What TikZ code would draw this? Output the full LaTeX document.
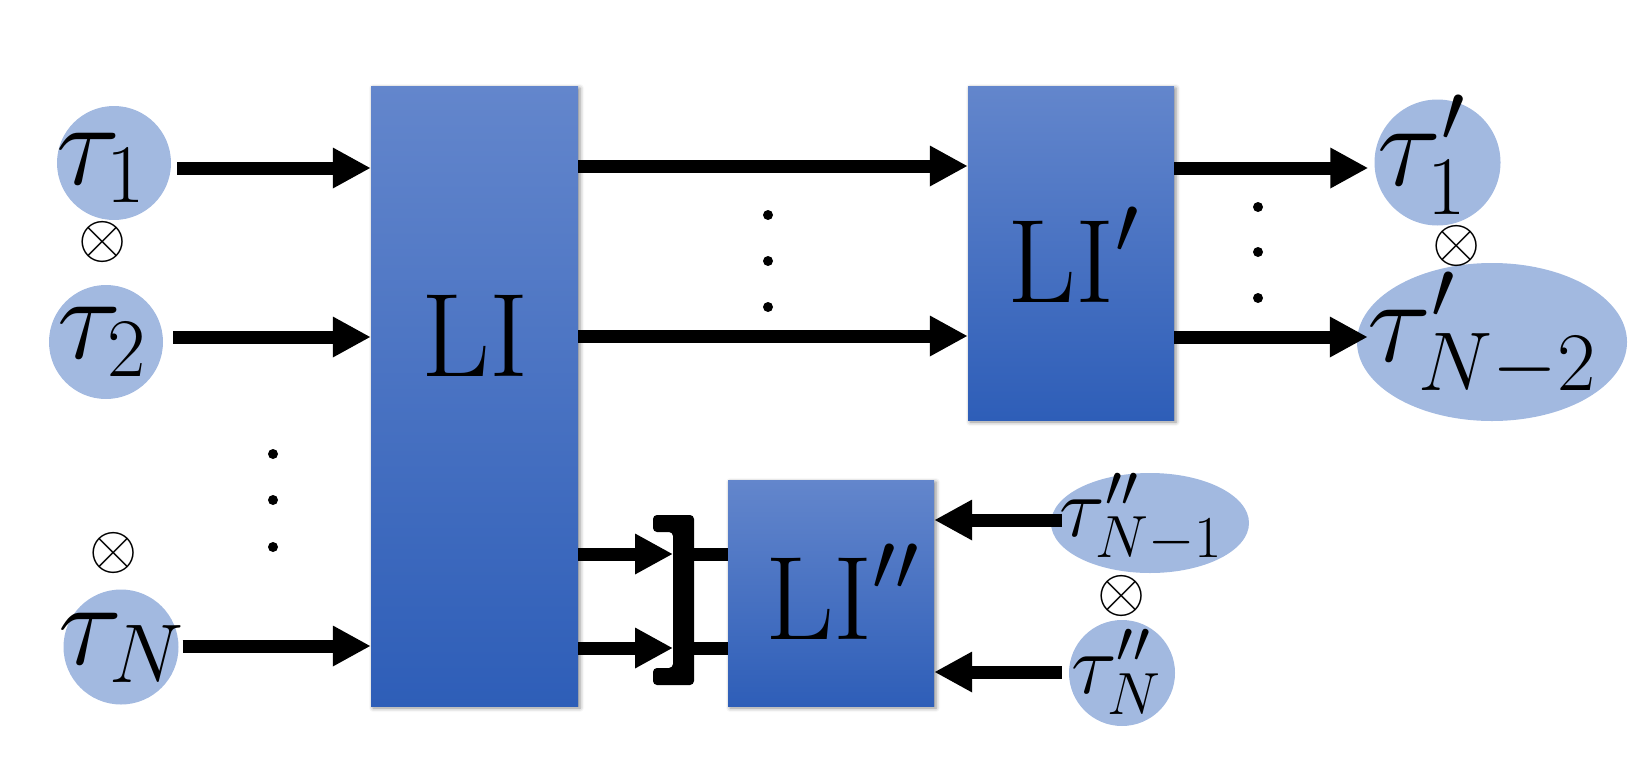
\RequirePackage{fix-cm}
\documentclass[tikz,border=0pt]{standalone}
\usetikzlibrary{arrows.meta,shapes.geometric,shadows.blur}
\definecolor{cfill}{RGB}{162,185,224}
\definecolor{btop}{RGB}{99,134,204}
\definecolor{bbot}{RGB}{46,94,184}
\begin{document}
\begin{tikzpicture}[x=1pt,y=-1pt,
  blk/.style={rectangle, inner sep=0pt, top color=btop, bottom color=bbot, draw=none,
    blur shadow={shadow xshift=2pt, shadow yshift=-2pt, shadow blur radius=4pt, shadow opacity=45}},
  circ/.style={circle, fill=cfill, draw=none, inner sep=0pt},
  ell/.style={ellipse, fill=cfill, draw=none, inner sep=0pt},
  bigtext/.style={font=\fontsize{119}{130}\selectfont, inner sep=0pt},
  midtext/.style={font=\fontsize{85}{95}\selectfont, inner sep=0pt},
  optext/.style={font=\fontsize{62}{70}\selectfont, inner sep=0pt},
  arr/.style={line width=13pt, -{Triangle[length=38pt,width=38pt]}},
  thk/.style={line width=13pt},
  vdot/.style={circle, fill=black, inner sep=0pt, minimum size=10pt}
]
\useasboundingbox (0,0) rectangle (1648,779);

% boxes
\node[blk, minimum width=207pt, minimum height=620pt] (LI) at (474.5,396) {};
\node[blk, minimum width=206pt, minimum height=334pt] (LIp) at (1071,253) {};
\node[blk, minimum width=206pt, minimum height=226pt] (LIpp) at (831,593) {};
\node[bigtext] (LIt) at (475,336) {$\mathrm{LI}$};
\node[bigtext] (LIpt) at (1073,255) {$\mathrm{LI}'$};
\node[bigtext] (LIppt) at (842,592) {$\mathrm{LI}''$};

% input circles
\node[circ, minimum size=114pt] (t1) at (114,163) {};
\node[circ, minimum size=114pt] (t2) at (106,342) {};
\node[circ, minimum size=115pt] (tN) at (121,647) {};
\node[bigtext] (t1t) at (101,168) {$\tau_1$};
\node[bigtext] (t2t) at (102,342) {$\tau_2$};
\node[bigtext] (tNt) at (121,648) {$\tau_N$};
\node[optext] (o1) at (103,242) {$\otimes$};
\node[optext] (o2) at (114,553) {$\otimes$};

% output shapes
\node[circ, minimum size=126pt] (tp1) at (1437.5,162.5) {};
\node[ell, minimum width=270pt, minimum height=158pt] (tpN) at (1492,342) {};
\node[bigtext] (tp1t) at (1422,155) {$\tau'_1$};
\node[bigtext] (tpNt) at (1482,335) {$\tau'_{N-2}$};
\node[optext] (o3) at (1457,246) {$\otimes$};

\node[ell, minimum width=198pt, minimum height=100pt] (tppA) at (1150,523) {};
\node[circ, minimum size=106pt] (tppB) at (1122,673) {};
\node[midtext] (tppAt) at (1141,518) {$\tau''_{N-1}$};
\node[midtext] (tppBt) at (1116,672) {$\tau''_N$};
\node[optext] (o4) at (1122,596) {$\otimes$};

% dots
\node[vdot] (d1) at (273,454) {};
\node[vdot] (d2) at (273,500) {};
\node[vdot] (d3) at (273,547) {};
\node[vdot] (d4) at (768,215) {};
\node[vdot] (d5) at (768,261) {};
\node[vdot] (d6) at (768,307) {};
\node[vdot] (d7) at (1258,207) {};
\node[vdot] (d8) at (1258,252) {};
\node[vdot] (d9) at (1258,298) {};

% bracket
\fill[rounded corners=4pt] (653,515) -- (694,515) -- (694,685) -- (653,685) -- (653,668)
  -- (673,668) -- (673,532) -- (653,532) -- cycle;
\coordinate (brA) at (673,554);
\coordinate (brB) at (673,648);
\coordinate (brAo) at (694,554);
\coordinate (brBo) at (694,648);

% arrows into LI
\draw[arr] ([shift={(6pt,-5pt)}]t1.east) coordinate (s1) -- (s1 -| LI.west);
\draw[arr] ([shift={(10pt,5pt)}]t2.east) coordinate (s2) -- (s2 -| LI.west);
\draw[arr] ([shift={(4pt,1pt)}]tN.east) coordinate (s3) -- (s3 -| LI.west);

% LI to LI'
\draw[arr] (LI.east |- 0,166) coordinate (s4) -- (s4 -| LIp.west);
\draw[arr] (LI.east |- 0,336) coordinate (s5) -- (s5 -| LIp.west);

% LI' to outputs
\coordinate (e6) at ([xshift=-6pt]tp1.west);
\coordinate (e7) at ([xshift=11pt]tpN.west);
\draw[arr] (LIp.east |- 0,168) coordinate (s6) -- (s6 -| e6);
\draw[arr] (LIp.east |- 0,337) coordinate (s7) -- (s7 -| e7);

% LI to bracket to LI''
\draw[arr] (brA -| LI.east) -- (brA);
\draw[arr] (brB -| LI.east) -- (brB);
\draw[thk] (brAo) -- (brAo -| LIpp.west);
\draw[thk] (brBo) -- (brBo -| LIpp.west);

% tau'' into LI''
\coordinate (s8) at ([xshift=11pt]tppA.west);
\coordinate (s9) at ([shift={(-7pt,-1pt)}]tppB.west);
\draw[arr] (s8 |- 0,520) coordinate (s8a) -- (s8a -| LIpp.east);
\draw[arr] (s9 |- 0,672) coordinate (s9a) -- (s9a -| LIpp.east);
\end{tikzpicture}
\end{document}
